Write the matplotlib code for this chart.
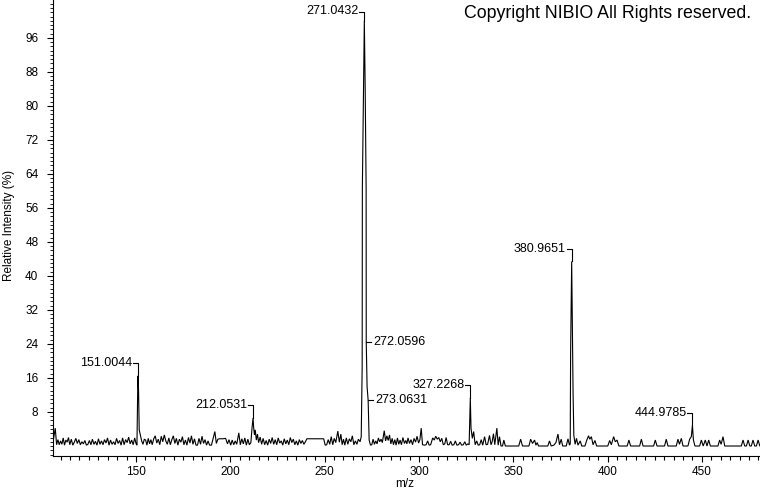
import matplotlib
matplotlib.use("Agg")
import matplotlib.pyplot as plt
from matplotlib.ticker import MultipleLocator, FixedLocator
from matplotlib.transforms import IdentityTransform

plt.rcParams['font.family'] = ['Liberation Sans', 'DejaVu Sans']

# spectrum, region by region: (m/z, relative intensity %)
seg_107_151 = [
    (105.9, 0.6), (107.2, 4.2), (107.9, 0.3), (108.6, 1.5), (109.3, 0.3), (110.0, 1.2),
    (110.7, 0.4), (111.4, 1.9), (112.1, 0.2), (112.8, 1.4), (113.5, 0.9), (114.2, 2.0),
    (114.9, 0.3), (115.7, 1.6), (116.5, 0.2), (117.3, 0.9), (118.1, 1.8), (118.9, 0.6),
    (119.7, 1.5), (120.5, 0.3), (121.3, 1.0), (122.1, 0.5), (122.9, 1.3), (123.7, 0.2),
    (124.5, 0.4), (125.3, 1.3), (126.1, 0.3), (126.9, 1.6), (127.7, 0.4), (128.5, 1.1),
    (129.3, 0.2), (130.1, 1.7), (130.9, 0.4), (131.7, 1.2), (132.5, 0.3), (133.3, 1.5),
    (134.1, 0.7), (134.9, 1.9), (135.7, 0.2), (136.5, 1.4), (137.3, 0.4), (138.1, 1.0),
    (138.9, 0.3), (139.7, 1.8), (140.5, 0.6), (141.3, 1.3), (142.1, 0.2), (142.9, 1.9),
    (143.7, 0.3), (144.5, 1.5), (145.3, 0.8), (146.1, 2.1), (146.9, 0.5), (147.7, 1.4),
    (148.5, 0.3), (149.3, 1.9), (150.0, 0.6), (150.5, 0.2), (150.75, 8.3),
]
seg_151_212 = [
    (151.0044, 16.5), (151.35, 13.2), (151.7, 3.8), (152.3, 2.6), (153.0, 1.2), (153.7, 0.4),
    (154.4, 1.6), (155.1, 1.4), (155.8, 0.2), (156.5, 1.8), (157.2, 0.5), (157.9, 1.5),
    (158.6, 0.3), (159.4, 1.7), (160.2, 2.4), (161.0, 0.7), (161.8, 1.6), (162.6, 0.3),
    (163.4, 2.3), (164.2, 1.0), (165.0, 2.6), (165.8, 1.2), (166.6, 0.4), (167.4, 1.9),
    (168.2, 0.3), (169.0, 1.5), (169.8, 2.4), (170.6, 0.6), (171.4, 1.8), (172.2, 0.2),
    (173.0, 1.6), (173.8, 0.9), (174.6, 2.2), (175.4, 0.3), (176.2, 1.4), (177.0, 0.2),
    (177.8, 2.0), (178.6, 0.7), (179.4, 2.4), (180.2, 0.4), (181.0, 1.7), (181.8, 0.2),
    (182.6, 0.2), (183.4, 1.8), (184.2, 0.4), (185.0, 2.3), (185.8, 0.6), (186.6, 1.5),
    (187.4, 0.2), (188.2, 1.2), (189.0, 0.2), (190.0, 0.2), (191.8, 3.4), (192.6, 0.6),
    (193.4, 1.6), (194.2, 1.7), (196.0, 1.7), (197.5, 1.8), (198.5, 0.5), (199.3, 1.5),
    (200.2, 0.2), (201.0, 1.4), (201.8, 0.3), (202.6, 1.2), (203.4, 0.4), (204.5, 3.1),
    (205.3, 0.3), (206.1, 1.7), (206.9, 0.5), (207.7, 1.9), (208.5, 0.2), (209.3, 1.6),
    (210.1, 0.3), (210.9, 0.8), (211.5, 4.2),
]
seg_212_270 = [
    (212.0531, 6.6), (212.4, 4.2), (212.8, 2.6), (213.2, 3.8), (213.8, 1.4), (214.4, 2.8),
    (215.0, 0.8), (215.8, 2.1), (216.6, 0.4), (217.4, 1.8), (218.2, 0.3), (219.0, 1.3),
    (219.8, 0.2), (220.6, 1.6), (221.4, 0.6), (222.2, 2.0), (223.0, 0.4), (223.8, 1.5),
    (224.6, 0.3), (225.4, 1.9), (226.2, 0.7), (227.0, 1.2), (227.8, 0.2), (228.6, 1.7),
    (229.4, 0.5), (230.2, 1.4), (231.0, 0.3), (231.8, 2.0), (232.6, 0.8), (233.4, 1.6),
    (234.2, 0.3), (235.0, 1.2), (235.8, 0.2), (236.6, 1.5), (237.4, 0.6), (238.2, 1.3),
    (239.0, 0.4), (239.8, 1.0), (240.6, 1.7), (249.5, 1.7), (250.3, 0.2), (251.1, 0.3),
    (251.9, 1.5), (252.7, 0.4), (253.5, 2.2), (254.3, 0.3), (255.1, 1.8), (255.9, 0.8),
    (257.0, 3.5), (257.8, 0.9), (258.6, 2.8), (259.3, 0.3), (260.0, 1.6), (260.7, 0.2),
    (261.5, 1.9), (262.3, 0.4), (263.1, 1.7), (263.9, 1.0), (264.7, 2.4), (265.5, 0.3),
    (266.3, 1.2), (267.1, 0.4), (267.9, 1.6), (268.8, 1.0), (269.4, 2.2),
]
seg_270_327 = [
    (269.9, 18.7), (270.0, 60.7), (270.6, 83.8), (271.0432, 100.0), (271.5, 84.0),
    (272.0, 60.5), (272.0596, 24.5), (272.5, 14.0), (273.0631, 10.8), (273.6, 1.4),
    (274.3, 0.2), (275.0, 0.3), (275.7, 1.6), (276.4, 0.4), (277.1, 1.2), (277.8, 0.5),
    (278.5, 1.9), (279.2, 1.0), (279.9, 1.6), (280.6, 0.8), (281.6, 3.6), (282.3, 1.2),
    (283.0, 2.4), (283.7, 1.3), (284.4, 2.6), (285.1, 0.5), (285.8, 1.8), (286.5, 0.3),
    (287.2, 1.5), (287.9, 0.2), (288.6, 1.9), (289.3, 0.4), (290.0, 1.4), (290.7, 0.3),
    (291.5, 2.0), (292.3, 0.6), (293.0, 1.3), (293.6, 0.5), (294.2, 1.9), (295.0, 0.6),
    (295.8, 1.5), (296.6, 0.3), (297.4, 1.8), (298.2, 0.9), (299.0, 2.3), (299.8, 0.7),
    (300.5, 1.5), (301.2, 4.2), (301.9, 0.3), (302.9, 0.2), (303.8, 0.3), (304.6, 1.2),
    (305.4, 0.2), (306.2, 0.3), (307.3, 1.9), (308.1, 1.4), (308.9, 2.3), (309.7, 1.6),
    (310.5, 2.0), (311.3, 1.0), (312.1, 1.8), (312.9, 0.3), (313.7, 0.5), (314.4, 2.0),
    (315.2, 0.3), (316.0, 0.3), (316.8, 1.1), (317.6, 0.2), (318.5, 0.3), (319.3, 1.2),
    (320.1, 0.2), (321.0, 0.3), (321.8, 0.9), (322.6, 0.2), (323.5, 0.3), (324.3, 1.0),
    (325.1, 0.2), (325.9, 0.5), (326.6, 0.3),
]
seg_327_381 = [
    (327.2268, 11.3), (327.6, 4.2), (328.3, 1.8), (329.0, 3.4), (329.8, 0.3), (330.6, 1.2),
    (331.4, 0.2), (332.2, 0.3), (333.0, 1.5), (333.8, 0.2), (334.8, 2.2), (335.6, 0.3),
    (336.4, 0.4), (337.4, 2.5), (338.2, 0.3), (338.8, 1.0), (339.5, 2.9), (340.2, 0.3),
    (341.3, 4.2), (342.0, 0.2), (342.7, 2.2), (343.5, 0.0), (344.3, 0.0), (345.0, 1.4),
    (345.8, 0.0), (352.9, 0.0), (353.9, 1.6), (354.9, 0.0), (358.3, 0.0), (359.2, 1.6),
    (360.2, 0.6), (361.3, 1.4), (362.0, 0.2), (362.7, 0.8), (363.4, 0.0), (368.3, 0.0),
    (369.2, 1.2), (370.1, 0.0), (371.5, 0.2), (372.6, 0.8), (373.7, 2.8), (374.5, 0.3),
    (375.4, 1.6), (376.2, 0.0), (378.1, 0.0), (379.0, 1.7), (379.8, 0.2), (380.2, 0.5),
    (380.4, 21.8),
]
seg_381_482 = [
    (380.9651, 43.4), (381.2, 32.8), (381.7, 12.6), (382.1, 2.5), (382.8, 0.4), (383.5, 1.8),
    (384.3, 0.2), (385.5, 1.2), (386.3, 0.0), (388.0, 0.0), (389.0, 1.4), (389.9, 2.4),
    (390.6, 1.6), (391.4, 2.2), (392.3, 0.3), (393.3, 1.3), (394.2, 0.0), (400.1, 0.0),
    (401.1, 1.3), (402.0, 0.3), (403.2, 2.2), (404.1, 1.0), (405.0, 1.4), (406.0, 0.0),
    (410.4, 0.0), (411.3, 1.4), (412.2, 0.0), (417.0, 0.0), (417.9, 1.6), (418.8, 0.0),
    (424.4, 0.0), (425.3, 1.4), (426.2, 0.0), (430.2, 0.0), (431.1, 1.6), (432.0, 0.0),
    (436.4, 0.0), (437.3, 1.6), (438.1, 0.4), (439.1, 1.8), (440.0, 0.0), (442.6, 0.0),
    (443.5, 1.6), (444.4, 2.2), (444.9785, 4.9), (445.5, 1.4), (446.3, 0.0), (448.8, 0.0),
    (449.7, 1.4), (450.7, 0.0), (451.8, 1.4), (452.7, 0.0), (453.6, 1.4), (454.5, 0.0),
    (458.5, 0.0), (459.4, 1.4), (460.2, 0.4), (461.2, 2.2), (462.1, 0.0), (470.9, 0.0),
    (471.8, 1.4), (472.7, 0.0), (473.6, 0.0), (474.5, 1.4), (475.4, 0.0), (476.2, 0.0),
    (477.1, 1.4), (478.0, 0.0), (478.9, 0.0), (479.8, 1.4), (480.7, 0.0), (482.0, 0.0),
]

# labelled peaks: bracket on the left of the peak top
top_mz = [151.0044, 212.0531, 271.0432, 327.2268, 380.9651, 444.9785]
top_int = [16.5, 6.6, 100.0, 11.3, 43.4, 4.9]
# labelled shoulder points: tick to the right
side_mz = [272.0596, 273.0631]
side_int = [24.5, 10.8]

x_major = [150, 200, 250, 300, 350, 400, 450]
y_major = [8, 16, 24, 32, 40, 48, 56, 64, 72, 80, 88, 96]

W, H = 760, 492
fig = plt.figure(figsize=(W / 100, H / 100), dpi=100)
ax = fig.add_axes([53 / W, 36 / H, 1 - 53 / W, 456 / H])

spectrum = seg_107_151 + seg_151_212 + seg_212_270 + seg_270_327 + seg_327_381 + seg_381_482
mz = [p[0] for p in spectrum]
inten = [p[1] for p in spectrum]
ax.plot(mz, inten, color='black', lw=0.8, solid_joinstyle='miter')

ax.set_xlim(106.0, 480.8)
ax.set_ylim(-2.35, 104.9)
for s in ['top', 'right']:
    ax.spines[s].set_visible(False)
for s in ['left', 'bottom']:
    ax.spines[s].set_linewidth(0.8)

ax.xaxis.set_major_locator(FixedLocator(x_major))
ax.xaxis.set_minor_locator(MultipleLocator(5))
ax.yaxis.set_major_locator(FixedLocator(y_major))
ax.yaxis.set_minor_locator(MultipleLocator(1))
ax.tick_params(axis='x', which='major', length=4, width=0.8, pad=3, labelsize=8.5)
ax.tick_params(axis='x', which='minor', length=3, width=0.8)
ax.tick_params(axis='y', which='major', length=4.5, width=0.8, pad=6, labelsize=8.5)
ax.tick_params(axis='y', which='minor', length=2.5, width=0.6)

fig.text(9 / W, 1 - 225 / H, 'Relative Intensity (%)', rotation=90,
         ha='center', va='center', fontsize=8.5)
fig.text(405 / W, 1 - 484 / H, 'm/z', ha='center', va='center', fontsize=8.5)
fig.text(751 / W, 1 - 13 / H, 'Copyright NIBIO All Rights reserved.',
         ha='right', va='center', fontsize=12.8)

# peak labels, drawn in pixel space
pix = IdentityTransform()
for m, h in zip(top_mz, top_int):
    px, py = ax.transData.transform((m, h))
    dy = min(12.5, H - 11.5 - py)
    ax.add_line(plt.Line2D([px, px, px - 5], [py, py + dy, py + dy],
                           transform=pix, color='black', lw=0.8, clip_on=False))
    ax.text(px - 6, py + dy, '%.4f' % m, transform=pix, ha='right', va='center',
            fontsize=9, clip_on=False)

for m, h in zip(side_mz, side_int):
    px, py = ax.transData.transform((m, h))
    ax.add_line(plt.Line2D([px, px + 5], [py, py], transform=pix,
                           color='black', lw=0.8, clip_on=False))
    ax.text(px + 7, py, '%.4f' % m, transform=pix, ha='left', va='center',
            fontsize=9, clip_on=False)

fig.savefig('out.png', dpi=100)
